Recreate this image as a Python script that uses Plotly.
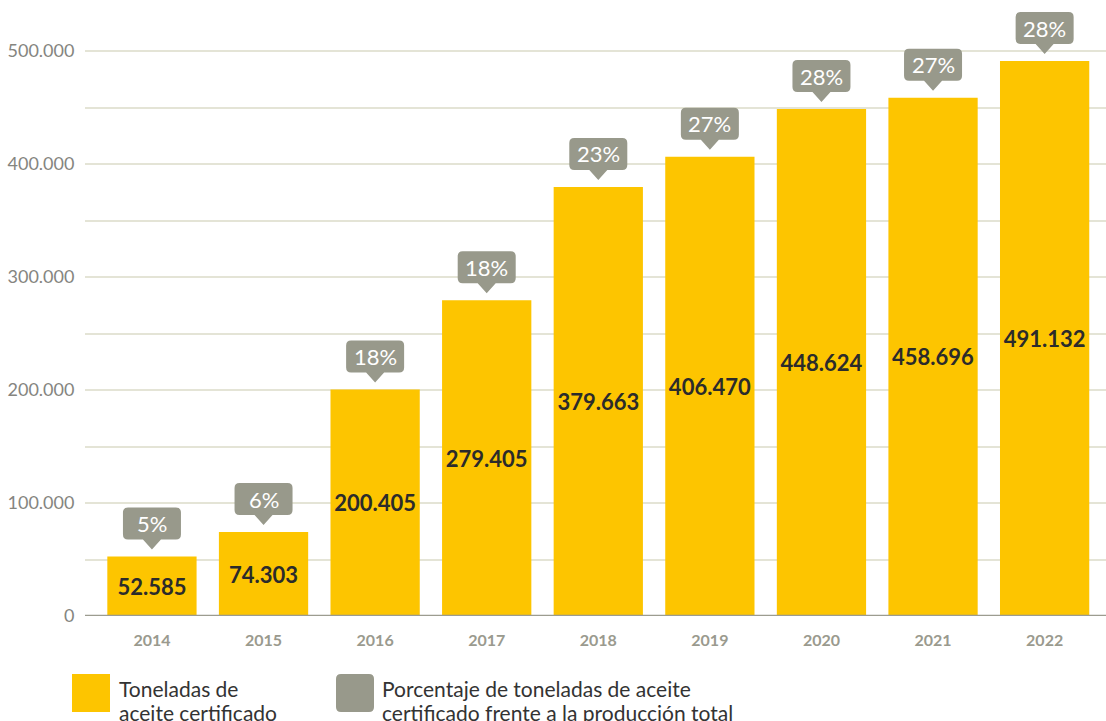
import plotly.graph_objects as go

years = ["2014", "2015", "2016", "2017", "2018", "2019", "2020", "2021", "2022"]
tons = [52585, 74303, 200405, 279405, 379663, 406470, 448624, 458696, 491132]
tons_labels = ["52.585", "74.303", "200.405", "279.405", "379.663", "406.470", "448.624", "458.696", "491.132"]
pct_labels = ["5%", "6%", "18%", "18%", "23%", "27%", "28%", "27%", "28%"]
ytick_vals = [0, 50000, 100000, 150000, 200000, 250000, 300000, 350000, 400000, 450000, 500000]
ytick_text = ["0", "", "100.000", "", "200.000", "", "300.000", "", "400.000", "", "500.000"]
legend_lines = [["Toneladas de", "aceite certificado"],
                ["Porcentaje de toneladas de aceite", "certificado frente a la producción total"]]

YELLOW = "#FDC500"
GRAY = "#98998B"
FONT = "Lato"

W, H = 1106, 721
L, R, T, B = 85, 0, 0, 105
PW, PH = W - L - R, H - T - B

def px(x):
    return (x - L) / PW

def py(y):
    return (H - B - y) / PH

fig = go.Figure()
fig.add_trace(go.Bar(
    x=list(range(len(years))), y=tons, text=tons_labels,
    textposition="inside", insidetextanchor="middle",
    textfont=dict(family=FONT, size=22, color="#2b2b2b", weight="bold"),
    marker=dict(color=YELLOW, line=dict(width=0)),
    width=0.8, cliponaxis=False, hoverinfo="skip",
))

def callout_path(w=58, h=32, r=5, pw=9, ph=10, gap=7):
    y0 = gap + ph
    y1 = y0 + h
    x0, x1 = -w / 2, w / 2
    return (f"M 0 {gap} L {-pw} {y0} L {x0 + r} {y0} Q {x0} {y0} {x0} {y0 + r} "
            f"L {x0} {y1 - r} Q {x0} {y1} {x0 + r} {y1} L {x1 - r} {y1} Q {x1} {y1} {x1} {y1 - r} "
            f"L {x1} {y0 + r} Q {x1} {y0} {x1 - r} {y0} L {pw} {y0} Z")

for i, (v, lab) in enumerate(zip(tons, pct_labels)):
    fig.add_shape(type="path", xref="x", yref="y", xsizemode="pixel", ysizemode="pixel",
                  xanchor=i, yanchor=v, path=callout_path(),
                  fillcolor=GRAY, line=dict(width=0), layer="above")
    fig.add_annotation(x=i, y=v, xref="x", yref="y", text=lab, showarrow=False,
                       yshift=33, yanchor="middle", xanchor="center",
                       font=dict(family=FONT, size=22, color="white"))

# baseline
fig.add_shape(type="line", xref="paper", yref="y", x0=0, x1=1, y0=0, y1=0,
              line=dict(color="#9C9C90", width=2.5), layer="above")

# legend markers
fig.add_shape(type="rect", xref="paper", yref="paper", x0=px(72), x1=px(110), y0=py(712), y1=py(674),
              fillcolor=YELLOW, line=dict(width=0))

def rrect_paper(x0, y0, x1, y1, r):
    X0, X1 = px(x0), px(x1)
    Y0, Y1 = py(y1), py(y0)
    rx, ry = r / PW, r / PH
    return (f"M {X0+rx} {Y0} L {X1-rx} {Y0} Q {X1} {Y0} {X1} {Y0+ry} L {X1} {Y1-ry} Q {X1} {Y1} {X1-rx} {Y1} "
            f"L {X0+rx} {Y1} Q {X0} {Y1} {X0} {Y1-ry} L {X0} {Y0+ry} Q {X0} {Y0} {X0+rx} {Y0} Z")

fig.add_shape(type="path", xref="paper", yref="paper", path=rrect_paper(336, 674, 374, 712, 5),
              fillcolor=GRAY, line=dict(width=0))

for xpix, lines in zip([117, 380], legend_lines):
    for k, line in enumerate(lines):
        fig.add_annotation(xref="paper", yref="paper", x=px(xpix), y=py(688 + 24 * k), text=line,
                           showarrow=False, xanchor="left", yanchor="middle", align="left",
                           font=dict(family=FONT, size=21, color="#333333"))

fig.update_layout(
    width=W, height=H, margin=dict(l=L, r=R, t=T, b=B),
    plot_bgcolor="white", paper_bgcolor="white", showlegend=False,
    xaxis=dict(range=[-0.6, 8.55], tickvals=list(range(len(years))), ticktext=years,
               showgrid=False, zeroline=False, showline=False,
               ticks="outside", ticklen=10, tickcolor="rgba(0,0,0,0)",
               tickfont=dict(family=FONT, size=16, color="#9A9A8E", weight="bold")),
    yaxis=dict(range=[0, 616 / 565 * 500000], tickvals=ytick_vals, ticktext=ytick_text,
               showgrid=True, gridcolor="#E4E4D6", gridwidth=2, zeroline=False, showline=False,
               ticks="outside", ticklen=6, tickcolor="rgba(0,0,0,0)",
               tickfont=dict(family=FONT, size=18, color="#85857F")),
)
fig.write_html("out.html", config={"displayModeBar": False},
               post_script="document.body.style.margin='0';document.body.style.overflow='hidden';")
